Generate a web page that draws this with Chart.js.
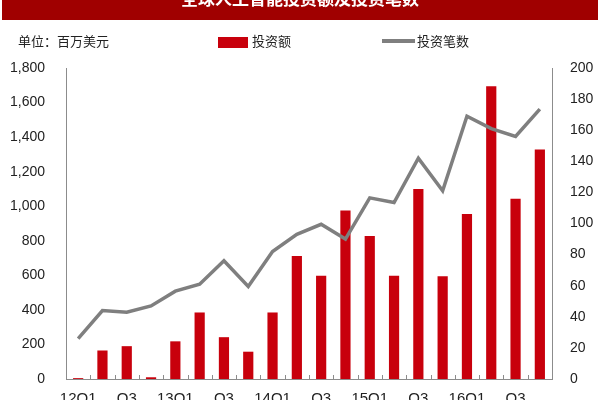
<!DOCTYPE html>
<html>
<head>
<meta charset="utf-8">
<script src="https://cdn.jsdelivr.net/npm/chart.js@4/dist/chart.umd.min.js"></script>
<style>
html,body{margin:0;padding:0;background:#fff;overflow:hidden;width:600px;height:400px;}
#wrap{position:absolute;left:0;top:0;width:600px;height:416px;}
</style>
</head>
<body>
<div id="wrap"><canvas id="c"></canvas></div>
<script>
const categories = ['12Q1','12Q2','12Q3','12Q4','13Q1','13Q2','13Q3','13Q4','14Q1','14Q2','14Q3','14Q4','15Q1','15Q2','15Q3','15Q4','16Q1','16Q2','16Q3','16Q4'];
const tickLabels = ['12Q1','','Q3','','13Q1','','Q3','','14Q1','','Q3','','15Q1','','Q3','','16Q1','','Q3',''];
const investAmount = [5,165,190,10,218,385,242,158,385,712,598,975,828,598,1100,594,955,1695,1043,1328];
const dealCount = [26,44,43,47,56.5,61,76,59.5,82,93,99.5,90,116.5,113.5,142,121,169,161,156,173.5];
const leftTicks = [0,200,400,600,800,1000,1200,1400,1600,1800];
const rightTicks = [0,20,40,60,80,100,120,140,160,180,200];
const titleText = '全球人工智能投资额及投资笔数';
const unitText = '单位：百万美元';
const seriesNames = ['投资额','投资笔数'];

const RED = '#c8000c';
const GRAY = '#7f7f7f';
const AXIS = '#8c8c8c';
const NUMFONT = "'Liberation Sans Narrow','Arial Narrow','Liberation Sans',Arial,sans-serif";
const CJK = "'Noto Sans CJK SC','Noto Sans',sans-serif";

const decor = {
  id:'decor',
  afterDraw(chart){
    const ctx = chart.ctx;
    ctx.save();
    // title bar
    ctx.fillStyle = '#a00000';
    ctx.fillRect(2,0,596,20);
    ctx.fillStyle = '#ffffff';
    ctx.font = "bold 17px " + CJK;
    ctx.textAlign = 'center';
    ctx.textBaseline = 'middle';
    ctx.fillText(titleText, 300, -1);
    // unit
    ctx.fillStyle = '#222';
    ctx.font = "13px " + CJK;
    ctx.textAlign = 'left';
    ctx.fillText(unitText, 18, 41);
    // legend
    ctx.fillStyle = RED;
    ctx.fillRect(218,37,30,11);
    ctx.fillStyle = '#222';
    ctx.fillText(seriesNames[0], 252, 41);
    ctx.strokeStyle = GRAY;
    ctx.lineWidth = 4;
    ctx.beginPath(); ctx.moveTo(382,41); ctx.lineTo(415,41); ctx.stroke();
    ctx.fillText(seriesNames[1], 417, 41);
    // small inward tick marks on the category axis
    const xs = chart.scales.x, bottom = chart.chartArea.bottom;
    ctx.strokeStyle = AXIS; ctx.lineWidth = 1;
    ctx.beginPath();
    for (let i = 1; i < categories.length; i++) {
      const px = Math.round((xs.getPixelForTick(i-1) + xs.getPixelForTick(i)) / 2) + 0.5;
      ctx.moveTo(px, bottom); ctx.lineTo(px, bottom - 4);
    }
    ctx.stroke();
    ctx.restore();
  }
};

new Chart(document.getElementById('c'), {
  data: {
    labels: categories,
    datasets: [
      {type:'line', label:seriesNames[1], data:dealCount, yAxisID:'y2', borderColor:GRAY, backgroundColor:GRAY, borderWidth:3.5, pointRadius:0, tension:0, order:0},
      {type:'bar', label:seriesNames[0], data:investAmount, yAxisID:'y', backgroundColor:RED, barPercentage:0.42, categoryPercentage:1.0, order:1}
    ]
  },
  options: {
    responsive:true, maintainAspectRatio:false, animation:false,
    layout:{padding:{top:68,left:0,right:0,bottom:5}},
    plugins:{legend:{display:false}, tooltip:{enabled:false}},
    scales:{
      x:{
        grid:{display:false},
        border:{display:true, color:AXIS, width:1},
        ticks:{autoSkip:false, maxRotation:0, padding:3, color:'#222', font:{family:NUMFONT, size:15},
          callback:(v,i)=>tickLabels[i]}
      },
      y:{
        position:'left', min:0, max:1800,
        afterBuildTicks:(s)=>{s.ticks = leftTicks.map(v=>({value:v}));},
        afterFit:(s)=>{s.width = 66;},
        grid:{display:false},
        border:{display:true, color:AXIS, width:1},
        ticks:{padding:13, color:'#222', font:{family:NUMFONT, size:14},
          callback:(v)=>v.toLocaleString('en-US')}
      },
      y2:{
        position:'right', min:0, max:200,
        afterBuildTicks:(s)=>{s.ticks = rightTicks.map(v=>({value:v}));},
        afterFit:(s)=>{s.width = 48;},
        grid:{display:false},
        border:{display:true, color:AXIS, width:1},
        ticks:{padding:10, color:'#222', font:{family:NUMFONT, size:14}}
      }
    }
  },
  plugins:[decor]
});
</script>
</body>
</html>
